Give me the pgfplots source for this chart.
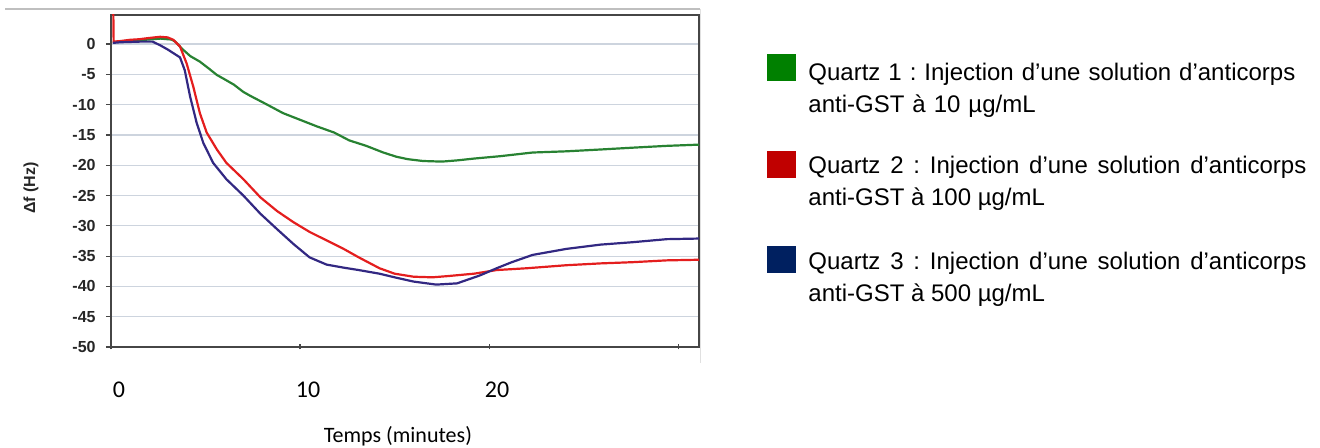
\documentclass[border=0pt]{standalone}
\usepackage{pgfplots}
\pgfplotsset{compat=1.18}
\usepackage{fontspec}
\setmainfont{Liberation Sans}
\newfontfamily\carlito{Carlito}
\definecolor{cgreen}{RGB}{40,130,50}
\definecolor{cred}{RGB}{228,30,30}
\definecolor{cblue}{RGB}{50,40,130}
\definecolor{lgreen}{RGB}{0,128,0}
\definecolor{lred}{RGB}{192,0,0}
\definecolor{lblue}{RGB}{0,32,96}
\definecolor{gridc}{RGB}{205,212,222}
\definecolor{framec}{RGB}{70,70,70}
\begin{document}
\frenchspacing
\begin{tikzpicture}
\useasboundingbox (0pt,0pt) rectangle (660pt,224pt);
% scan frame artefacts
\draw[line width=0.6pt, black!25] (2.5pt,219.5pt) -- (350pt,219.5pt);
\draw[line width=0.5pt, black!12] (350pt,219.5pt) -- (350pt,42.5pt);
\begin{axis}[
  at={(55.5pt,50.5pt)}, anchor=south west,
  scale only axis, width=294pt, height=166pt,
  xmin=0, xmax=31.1, ymin=-50, ymax=4.8,
  xtick={0,10,20,30}, xticklabels={0,10,20,},
  ytick={-50,-45,...,0},
  tick pos=left,
  /pgf/number format/assume math mode=true,
  axis line style={framec, line width=0.75pt},
  ymajorgrids, grid style={gridc, line width=0.6pt},
  major tick length=2.5pt,
  tick style={framec, line width=0.6pt},
  xtick align=center, ytick align=outside,
  xticklabel style={font=\carlito\fontsize{12}{14}\selectfont, inner sep=0pt, yshift=-16pt, xshift=4pt},
  yticklabel style={font=\bfseries\fontsize{8}{9}\selectfont, text=black!85, inner sep=0pt, xshift=-5pt},
  ylabel={\textbf{Δf (Hz)}},
  ylabel style={font=\fontsize{8}{9}\selectfont, text=black!85, at={(axis description cs:-0.136,0.479)}, anchor=center},
  xlabel={Temps (minutes)},
  xlabel style={font=\carlito\fontsize{11}{13}\selectfont, at={(axis description cs:0.488,-0.268)}, anchor=center},
  clip=true,
]
\addplot[cgreen, line width=1.1pt] coordinates {
(0.1,0.3) (0.5,0.45) (1,0.55) (1.5,0.65) (2,0.75) (2.6,0.9) (3.2,0.75) (3.4,0.4)
(3.8,-0.9) (4.2,-2.0) (4.7,-2.9) (5.2,-4.1) (5.6,-5.1) (6.0,-5.8) (6.5,-6.7)
(7.0,-7.9) (7.4,-8.6) (8.2,-9.9) (9.1,-11.4) (10.0,-12.5) (10.9,-13.6) (11.8,-14.6)
(12.6,-15.9) (13.5,-16.8) (14.4,-17.9) (15.1,-18.6) (15.7,-19.0) (16.5,-19.3)
(17.5,-19.4) (18.3,-19.2) (19.2,-18.9) (20.6,-18.5) (22.3,-17.9) (24.1,-17.7)
(25.9,-17.4) (27.6,-17.1) (29.4,-16.8) (31.1,-16.6)
};
\addplot[cred, line width=1.1pt] coordinates {
(0.12,6) (0.14,0.4) (0.5,0.5) (1.0,0.7) (1.5,0.8) (2.0,1.0) (2.6,1.2) (3.0,1.1)
(3.3,0.7) (3.65,-0.4) (4.0,-3.2) (4.35,-7.0) (4.7,-11.4) (5.06,-14.6) (5.6,-17.4)
(6.1,-19.6) (7.0,-22.3) (7.9,-25.3) (8.8,-27.6) (9.65,-29.4) (10.5,-31.0)
(11.4,-32.4) (12.3,-33.8) (13.1,-35.2) (14.2,-37.0) (15.0,-37.9) (16.0,-38.4)
(17.0,-38.5) (17.8,-38.3) (19.2,-37.9) (20.4,-37.3) (22.0,-37.0) (24.1,-36.5)
(25.9,-36.2) (27.6,-36.0) (29.4,-35.7) (31.1,-35.6)
};
\addplot[cblue, line width=1.1pt] coordinates {
(0.1,0.2) (0.5,0.3) (1.0,0.35) (1.5,0.4) (2.2,0.4) (2.6,-0.2) (3.0,-0.9) (3.3,-1.5)
(3.65,-2.2) (3.9,-4.3) (4.18,-8.6) (4.53,-13.0) (4.88,-16.3) (5.4,-19.6) (6.1,-22.3)
(7.0,-25.0) (7.9,-28.0) (8.8,-30.6) (9.65,-33.0) (10.5,-35.2) (11.4,-36.4)
(12.3,-36.9) (13.1,-37.3) (14.2,-37.9) (15.0,-38.5) (16.0,-39.2) (17.2,-39.7)
(18.3,-39.5) (19.5,-38.2) (20.4,-37.0) (21.2,-36.0) (22.3,-34.8) (24.1,-33.8)
(25.9,-33.1) (27.6,-32.7) (29.4,-32.2) (31.1,-32.1)
};
\end{axis}
% legend
\fill[lgreen] (383.5pt,183.5pt) rectangle (398pt,197pt);
\fill[lred] (383.5pt,135pt) rectangle (398pt,148.5pt);
\fill[lblue] (383.5pt,87.5pt) rectangle (398pt,101pt);
\node[anchor=north west, inner sep=0pt, text width=249pt, align=left,
  font=\fontsize{12}{16}\selectfont] at (404pt,192.6pt)
  {Quartz 1 : Injection d’une solution d’anticorps anti-GST à 10 µg/mL};
\node[anchor=north west, inner sep=0pt, text width=249pt, align=justify,
  font=\fontsize{12}{16}\selectfont] at (404pt,146pt)
  {Quartz 2 : Injection d’une solution d’anticorps anti-GST à 100 µg/mL};
\node[anchor=north west, inner sep=0pt, text width=249pt, align=justify,
  font=\fontsize{12}{16}\selectfont] at (404pt,98pt)
  {Quartz 3 : Injection d’une solution d’anticorps anti-GST à 500 µg/mL};
\end{tikzpicture}
\end{document}
